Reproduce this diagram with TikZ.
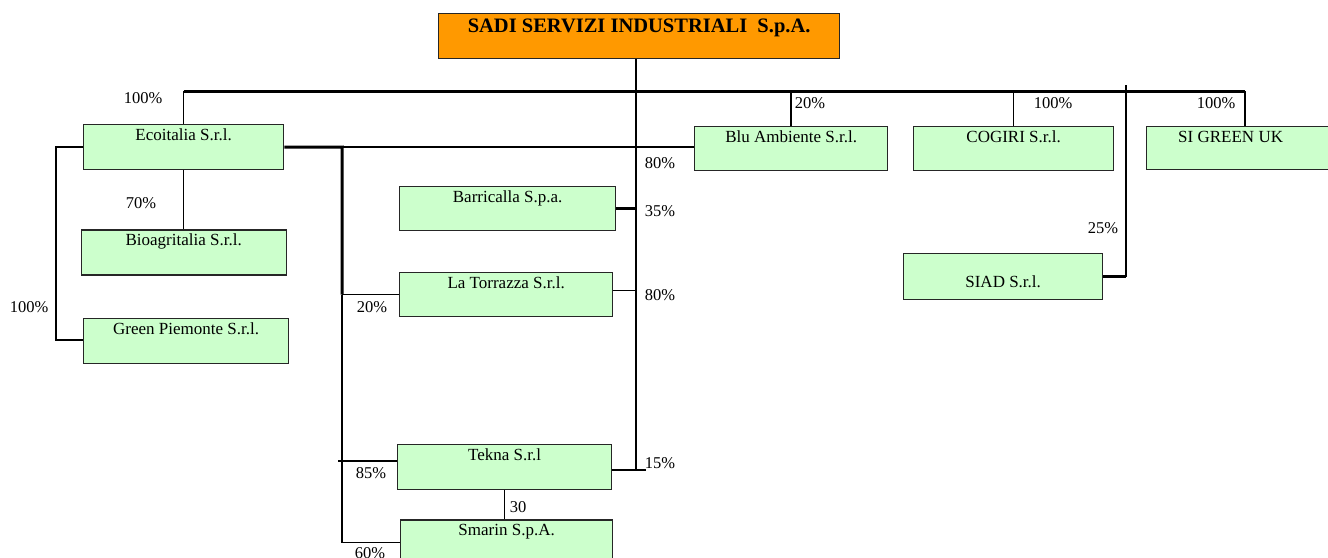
\documentclass[tikz,border=0pt]{standalone}
\usepackage{fontspec}
\setmainfont{Liberation Serif}
\usetikzlibrary{positioning}
\definecolor{sadiorange}{HTML}{FF9900}
\definecolor{firmgreen}{HTML}{CCFFCC}

\begin{document}
\begin{tikzpicture}[x=1pt,y=-1pt,
		firm/.style={ % box of a company
			draw=black!85, fill=firmgreen, line width=1.3pt,
			anchor=north west, inner xsep=0pt, inner ysep=0pt,
			text height=16pt, text depth=29pt,
			font=\fontsize{17}{19}\selectfont
		},
		parent/.style={firm, fill=sadiorange,
			text height=18.5pt, text depth=26.5pt,
			font=\fontsize{20.5}{22}\selectfont\bfseries},
		pct/.style={font=\fontsize{16.5}{18}\selectfont, inner sep=0pt},
		link/.style={line width=1.4pt},
		trunk/.style={line width=3pt}
		]
		\useasboundingbox (0,0) rectangle (1328,557);

		%% top company
		\node[parent, minimum width=401pt] (sadi) at (438,13) {SADI SERVIZI INDUSTRIALI\ \ S.p.A.};

		%% first row
		\node[firm, minimum width=200pt] (eco) at (83,124) {Ecoitalia S.r.l.};
		\node[firm, minimum width=193pt, text depth=28pt] (blu) at (694,126) {Blu Ambiente S.r.l.};
		\node[firm, minimum width=200pt, text depth=28pt] (cogiri) at (913,126) {COGIRI S.r.l.};
		\node[firm, minimum width=182pt, text depth=27pt] (sigreen) at (1146,126) {SI GREEN UK\hspace*{14pt}};

		%% under Ecoitalia
		\node[firm, minimum width=205pt, below=59pt of eco.south, anchor=north] (bio) {Bioagritalia S.r.l.};
		\node[firm, minimum width=205pt] (green) at (83,318) {Green Piemonte S.r.l.};

		%% middle column
		\node[firm, minimum width=216pt, text depth=28pt] (barr) at (399,186) {Barricalla S.p.a.};
		\node[firm, minimum width=213pt, text depth=28pt] (latorr) at (399,272) {La Torrazza S.r.l.};
		\node[firm, minimum width=214pt] (tekna) at (397,444) {Tekna S.r.l};
		\node[firm, minimum width=212pt, below=29pt of tekna.south west, anchor=north west, xshift=3pt] (smarin) {Smarin S.p.A.};

		%% right
		\node[firm, minimum width=199pt, text height=34pt, text depth=12pt] (siad) at (903,253) {SIAD S.r.l.};

		% points for the lines
		\coordinate (bus) at (636,91);
		\coordinate (bus e) at (1245,91);
		\coordinate (spine) at (636,470);
		\coordinate (t15) at (646,470);
		\coordinate (fork) at (342,147);
		\coordinate (hook) at (56,340);
		\coordinate (siadtop) at (1126,85);

		% main bus and stems
		\draw[trunk] (eco.north |- bus) -- (bus e);
		\draw[link] (eco.north |- bus) -- (eco.north);
		\draw[link] (blu.north |- bus) -- (blu.north);
		\draw[link] (cogiri.north |- bus) -- (cogiri.north);
		\draw[link] (bus e) -- (bus e |- sigreen.north);
		\draw[link] (spine |- sadi.south) -- (spine);

		% right of the spine
		\draw[trunk] (barr.east) -- (barr.east -| spine);
		\draw[link] ([yshift=4pt]latorr.east) -- ([yshift=4pt]latorr.east -| spine);
		\draw[link] (tekna.east |- t15) -- (t15);

		% Ecoitalia links
		\draw[trunk] (eco.east) -- (fork) -- (fork |- latorr.west);
		\draw[link] (fork) -- (fork -| blu.west);
		\draw[link] (fork |- latorr.west) -- (latorr.west);
		\draw[link] (fork |- latorr.west) -- (fork |- smarin.west) -- (smarin.west);
		\draw[link] ([yshift=6pt]tekna.west) -- ([yshift=6pt,xshift=-4pt]tekna.west -| fork);
		\draw[link] (tekna.south) -- (tekna.south |- smarin.north);
		\draw[link] (eco.south) -- (bio.north);
		\draw[link] (eco.west) -| (hook) -- (hook -| green.west);

		% SIAD
		\draw[link] (siadtop) -- (siadtop |- siad.east);
		\draw[trunk] (siad.east) -- (siad.east -| siadtop);

		%% percentages
		\node[pct] (p eco) at (143,98) {100\%};
		\node[pct] (p blu) at (810,103) {20\%};
		\node[pct] (p cog) at (1053,103) {100\%};
		\node[pct] (p sig) at (1216,103) {100\%};
		\node[pct] (p blu2) at (660,163) {80\%};
		\node[pct] (p bio) at (141,203) {70\%};
		\node[pct] (p barr) at (660,211) {35\%};
		\node[pct] (p siad) at (1103,228) {25\%};
		\node[pct] (p lat) at (660,295) {80\%};
		\node[pct] (p lat2) at (372,307) {20\%};
		\node[pct] (p green) at (29,307) {100\%};
		\node[pct] (p tek) at (371,473) {85\%};
		\node[pct] (p tek2) at (660,463) {15\%};
		\node[pct] (p sma2) at (518,507) {30};
		\node[pct] (p sma) at (370,553) {60\%};
\end{tikzpicture}
\end{document}
